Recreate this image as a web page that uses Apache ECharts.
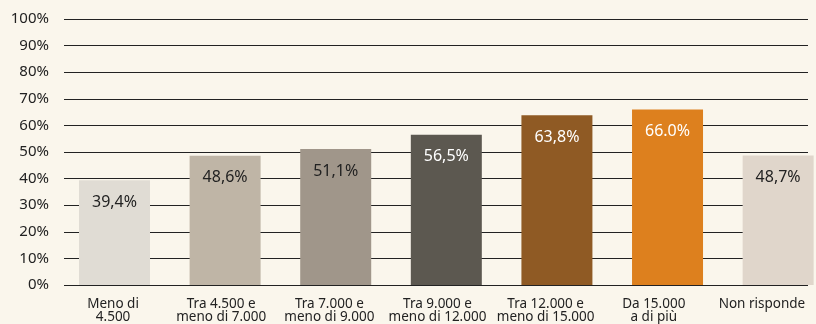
<!DOCTYPE html>
<html>
<head>
<meta charset="utf-8">
<script src="https://cdn.jsdelivr.net/npm/echarts@6/dist/echarts.min.js"></script>
<style>
html,body{margin:0;padding:0;background:#faf6ec;}
#c{width:816px;height:324px;}
</style>
</head>
<body>
<div id="c"></div>
<script>
var categories = ['Meno di\n4.500','Tra 4.500 e\nmeno di 7.000','Tra 7.000 e\nmeno di 9.000','Tra 9.000 e\nmeno di 12.000','Tra 12.000 e\nmeno di 15.000','Da 15.000\na di più','Non risponde'];
var values = [39.4, 48.6, 51.1, 56.5, 63.8, 66.0, 48.7];
var valueLabels = ['39,4%','48,6%','51,1%','56,5%','63,8%','66.0%','48,7%'];
var barColors = ['#e0dcd4','#bfb5a6','#a0968a','#5c5850','#8f5a24','#dd801e','#e0d6cb'];
var labelColors = ['#222','#222','#222','#fff','#fff','#fff','#222'];
var yTicks = [0,10,20,30,40,50,60,70,80,90,100];

var chart = echarts.init(document.getElementById('c'));
var data = values.map(function(v,i){
  return {value:[i,v], itemStyle:{color:barColors[i]}, label:{color:labelColors[i]}};
});
chart.setOption({
  backgroundColor:'#faf6ec',
  animation:false,
  grid:[
    {left:59, width:774, top:19, height:266},
    {left:64, right:8, top:19, height:266}
  ],
  xAxis:[
    {type:'category', gridIndex:0, data:categories,
     axisLine:{show:false}, axisTick:{show:false},
     axisLabel:{interval:0, fontSize:13.5, lineHeight:13, color:'#222', margin:13, fontFamily:'Noto Sans'}},
    {type:'value', gridIndex:1, min:-0.4566, max:6.270, show:false, splitLine:{show:false}}
  ],
  yAxis:[
    {type:'value', gridIndex:0, min:0, max:100, show:false, splitLine:{show:false}},
    {type:'value', gridIndex:1, min:yTicks[0], max:yTicks[yTicks.length-1], interval:10,
     axisLine:{show:false}, axisTick:{show:false},
     axisLabel:{formatter:'{value}%', fontSize:15, color:'#222', margin:15, fontFamily:'Noto Sans'},
     splitLine:{lineStyle:{color:'#222', width:1}}}
  ],
  series:[{
    type:'bar', xAxisIndex:1, yAxisIndex:1, barWidth:71, clip:true,
    data:data,
    label:{show:true, position:'insideTop', distance:14, fontSize:16, fontFamily:'Noto Sans',
      formatter:function(p){return valueLabels[p.dataIndex];}}
  }]
});
</script>
</body>
</html>
